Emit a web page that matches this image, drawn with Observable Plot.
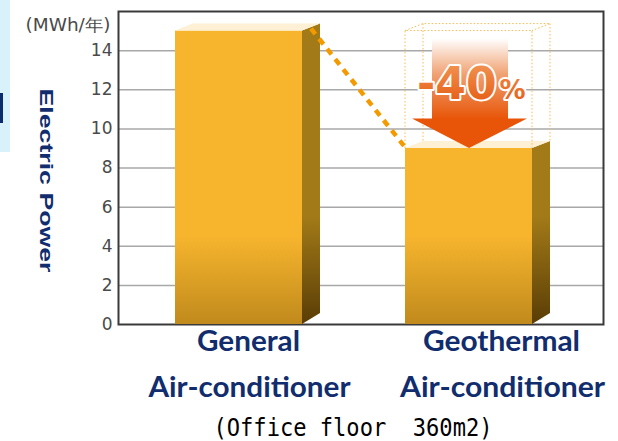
<!DOCTYPE html>
<html><head><meta charset="utf-8">
<script src="https://cdn.jsdelivr.net/npm/d3@7"></script>
<script src="https://cdn.jsdelivr.net/npm/@observablehq/plot@0.6"></script>
<style>
html,body{margin:0;padding:0;background:#fff;}
#wrap{position:relative;width:618px;height:441px;overflow:hidden;}
#chart{position:absolute;left:0;top:0;}
#strip{position:absolute;left:0;top:0;width:10px;height:152px;background:#d9f1fb;}
#tab{position:absolute;left:0;top:93px;width:3px;height:30px;background:#0d2a6b;}
</style></head><body>
<div id="wrap"><div id="chart"></div><div id="strip"></div><div id="tab"></div></div>
<script>
const categories = ["General Air-conditioner", "Geothermal Air-conditioner"];
const labelLine1 = ["General", "Geothermal"];
const labelLine2 = ["Air-conditioner", "Air-conditioner"];
const power = [15, 9];
const yTicks = [0, 2, 4, 6, 8, 10, 12, 14];
const reductionText = "-40";
const percentText = "%";
const unitLabel = "(MWh/年)";
const yTitle = "Electric Power";
const caption = "(Office floor  360m2)";

const data = categories.map((c, i) => ({category: c, value: power[i], line1: labelLine1[i], line2: labelLine2[i]}));
const navy = "#112d6e";
const DX = 18, DY = 7;

function defsMark(index, scales) {
  const y = scales.y;
  const svg = d3.create("svg:defs");
  const fg = svg.append("linearGradient").attr("id", "frontGrad").attr("gradientUnits", "userSpaceOnUse")
    .attr("x1", 0).attr("x2", 0).attr("y1", y(4.5)).attr("y2", y(0));
  fg.append("stop").attr("offset", 0).attr("stop-color", "#f7b52e");
  fg.append("stop").attr("offset", 1).attr("stop-color", "#c08a1c");
  const sg = svg.append("linearGradient").attr("id", "sideGrad").attr("gradientUnits", "userSpaceOnUse")
    .attr("x1", 0).attr("x2", 0).attr("y1", y(5.5)).attr("y2", y(0));
  sg.append("stop").attr("offset", 0).attr("stop-color", "#a27a18");
  sg.append("stop").attr("offset", 1).attr("stop-color", "#5a3d06");
  const ag = svg.append("linearGradient").attr("id", "arrowGrad").attr("x1", 0).attr("x2", 0).attr("y1", 0).attr("y2", 1);
  ag.append("stop").attr("offset", 0).attr("stop-color", "#ffffff");
  ag.append("stop").attr("offset", 0.45).attr("stop-color", "#f0a070");
  ag.append("stop").attr("offset", 1).attr("stop-color", "#e85508");
  const tg = svg.append("linearGradient").attr("id", "textGrad").attr("x1", 0).attr("x2", 0).attr("y1", 0).attr("y2", 1);
  tg.append("stop").attr("offset", 0).attr("stop-color", "#f39a5a");
  tg.append("stop").attr("offset", 1).attr("stop-color", "#e4550c");
  return svg.node();
}

function facesMark(index, scales) {
  const x = scales.x, y = scales.y, bw = x.bandwidth();
  const g = d3.create("svg:g");
  for (const d of data) {
    const x1 = x(d.category), x2 = x1 + bw, yt = y(d.value), yb = y(0);
    g.append("path").attr("d", `M${x2},${yt}L${x2 + DX},${yt - DY}L${x2 + DX},${yb - DY - 4}L${x2},${yb}Z`).attr("fill", "url(#sideGrad)");
    g.append("path").attr("d", `M${x1},${yt}L${x1 + DX},${yt - DY}L${x2 + DX},${yt - DY}L${x2},${yt}Z`).attr("fill", "#fdf0d4");
  }
  return g.node();
}

function annotationMark(index, scales) {
  const x = scales.x, y = scales.y, bw = x.bandwidth();
  const a = data[0], b = data[1];
  const ax1 = x(a.category), bx1 = x(b.category), bx2 = bx1 + bw;
  const g = d3.create("svg:g");
  const yg = y(a.value), yb = y(b.value);
  const ghost = g.append("g").attr("fill", "none").attr("stroke", "#f8bb55").attr("stroke-width", 1).attr("stroke-dasharray", "1.5,2");
  ghost.append("path").attr("d",
    `M${bx1},${yb}L${bx1},${yg}L${bx2},${yg}L${bx2},${yb}` +
    `M${bx1},${yg}L${bx1 + DX},${yg - DY}L${bx2 + DX},${yg - DY}L${bx2},${yg}` +
    `M${bx1 + DX},${yg - DY}L${bx1 + DX},${yb - DY}` +
    `M${bx2 + DX},${yg - DY}L${bx2 + DX},${yb - DY}`);
  g.append("line").attr("x1", ax1 + bw + 9).attr("y1", y(a.value) - 2)
    .attr("x2", bx1 - 1).attr("y2", y(b.value) - 2)
    .attr("stroke", "#f39a00").attr("stroke-width", 4.5).attr("stroke-dasharray", "7,6");
  const yHead = y(10.5), yTop = y(14.6);
  g.append("rect").attr("x", bx1 + 27).attr("y", yTop).attr("width", 76).attr("height", yHead - yTop + 0.5).attr("fill", "url(#arrowGrad)");
  g.append("path").attr("d", `M${bx1 + 7},${yHead}L${bx1 + 122},${yHead}L${bx1 + 64},${yb}Z`).attr("fill", "#e85508");
  const t = g.append("text").attr("x", bx1 + 12).attr("y", y(11.5)).attr("text-anchor", "start")
    .attr("font-family", "DejaVu Sans").attr("font-weight", "bold")
    .attr("fill", "url(#textGrad)").attr("stroke", "#fff").attr("stroke-width", 4)
    .attr("stroke-linejoin", "round").attr("paint-order", "stroke");
  t.append("tspan").attr("font-size", 44).text(reductionText);
  t.append("tspan").attr("font-size", 26).attr("dx", 3).text(percentText);
  return g.node();
}

const chart = Plot.plot({
  width: 618, height: 441,
  marginTop: 11, marginBottom: 117, marginLeft: 118, marginRight: 15,
  style: {fontFamily: "DejaVu Sans", background: "transparent", overflow: "visible"},
  x: {domain: categories, range: [175, 532], paddingInner: 0.448, paddingOuter: 0, align: 0, axis: null},
  y: {domain: [0, 16], axis: null},
  marks: [
    defsMark,
    Plot.gridY(yTicks.filter(d => d > 0), {stroke: "#a8a8a8", strokeOpacity: 1, strokeWidth: 1.5}),
    Plot.frame({stroke: "#3a3a3a", strokeWidth: 2}),
    Plot.axisY({ticks: yTicks, tickSize: 0, tickPadding: 6, fontSize: 17, fill: "#4a4a4a", label: null}),
    Plot.text([unitLabel], {frameAnchor: "top-left", textAnchor: "end", dx: -8, dy: 7, fontSize: 17, fill: "#4a4a4a"}),
    Plot.text([yTitle], {frameAnchor: "left", rotate: 90, textAnchor: "middle", dx: -72.4, dy: 12.5, fontSize: 19, fontWeight: "bold", fill: navy, fontFamily: "Liberation Sans"}),
    Plot.barY(data, {x: "category", y: "value", fill: "url(#frontGrad)"}),
    facesMark,
    annotationMark,
    Plot.text(data.slice(0, 1), {x: "category", text: "line1", frameAnchor: "bottom", dx: 9.5, dy: 26.5, fontSize: 29, fontWeight: "bold", fill: navy, fontFamily: "Lato"}),
    Plot.text(data.slice(1, 2), {x: "category", text: "line1", frameAnchor: "bottom", dx: 32.5, dy: 26.5, fontSize: 29, fontWeight: "bold", fill: navy, fontFamily: "Lato"}),
    Plot.text(data.slice(0, 1), {x: "category", text: "line2", frameAnchor: "bottom", dx: 10.5, dy: 72.5, fontSize: 29, fontWeight: "bold", fill: navy, fontFamily: "Lato"}),
    Plot.text(data.slice(1, 2), {x: "category", text: "line2", frameAnchor: "bottom", dx: 33.5, dy: 72.5, fontSize: 29, fontWeight: "bold", fill: navy, fontFamily: "Lato"}),
    Plot.text([caption], {frameAnchor: "bottom", dx: -8, dy: 111, fontSize: 24, fill: "#000", fontFamily: "DejaVu Sans Mono"})
  ]
});
document.getElementById("chart").appendChild(chart);
const fit = [[unitLabel, 85], ["General", 103], ["Geothermal", 157], ["Air-conditioner", 202], ["Air-conditioner", 205], [caption, 279]];
const texts = Array.from(chart.querySelectorAll("text"));
const used = new Set();
for (const [s, w] of fit) {
  const el = texts.find(e => !used.has(e) && e.textContent === s);
  if (!el) continue;
  used.add(el);
  el.setAttribute("textLength", w);
  el.setAttribute("lengthAdjust", "spacingAndGlyphs");
}
const titleEl = texts.find(e => e.textContent === yTitle);
if (titleEl) {
  const natural = titleEl.getComputedTextLength() || 131;
  const tr = titleEl.getAttribute("transform") || "";
  titleEl.setAttribute("transform", tr + ` scale(${184 / natural},1)`);
}
</script>
</body></html>
